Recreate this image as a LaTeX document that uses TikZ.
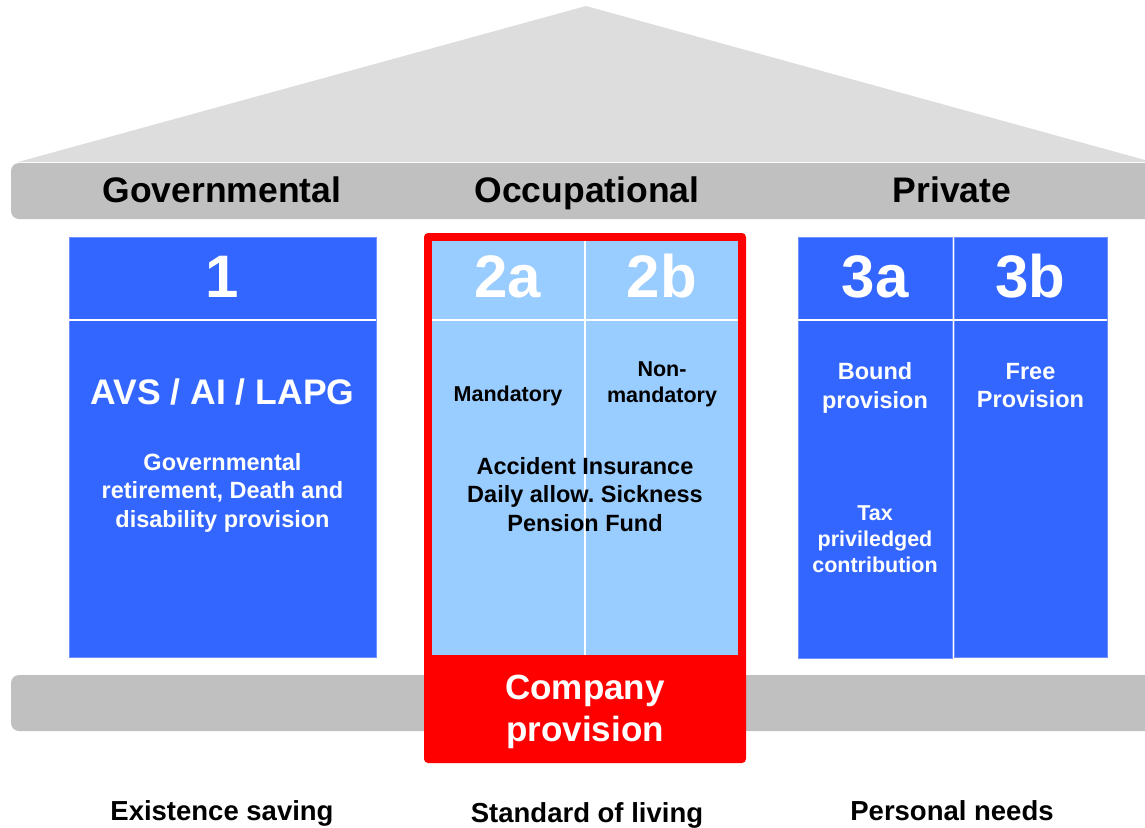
\documentclass[tikz,border=0pt]{standalone}
\usepackage{fontspec}
\setmainfont{Liberation Sans}
\usepackage{tikz}

\definecolor{pillarblue}{HTML}{3366FF}
\definecolor{lightpillar}{HTML}{99CCFF}
\definecolor{beamgray}{HTML}{C0C0C0}
\definecolor{roofgray}{HTML}{DDDDDD}
\definecolor{edgeblue}{HTML}{7090FF}

\newcommand{\boldsz}[2]{\fontsize{#1}{#2}\selectfont\bfseries}
\frenchspacing

\begin{document}
\begin{tikzpicture}[x=1pt,y=-1pt,
   pillar/.style={fill=pillarblue,draw=edgeblue,line width=0.8pt,inner sep=0pt},
   head/.style={anchor=base,font=\boldsz{35.5}{42}},
   num/.style={anchor=base,text=white,font=\boldsz{60}{60}},
   txt/.style={align=center,text=white,font=\boldsz{23.5}{28.5}},
   small/.style={align=center,font=\boldsz{21.5}{26}},
   foot/.style={anchor=base,font=\boldsz{27.5}{33}}]

\tikzstyle {sep} = [white, line width=1.5pt];

\useasboundingbox (0,0) rectangle (1145,827);

% roof and beams
\fill[roofgray] (18,162) -- (586,6) -- (1145,160) -- (1145,162) -- cycle;
\fill[beamgray, rounded corners=8] (1145,163) -- (11,163) -- (11,219) -- (1145,219);
\fill[beamgray, rounded corners=8] (1145,675) -- (11,675) -- (11,731) -- (1145,731);

% pillars
\node[pillar, minimum width=307pt, minimum height=420pt] (p1) at (222.5,447) {};
\node[pillar, minimum width=154pt, minimum height=421pt] (p3a) at (875,447.5) {};
\node[pillar, minimum width=153pt, minimum height=420pt] (p3b) at (1030.5,447) {};
\node[fill=red, rounded corners=4pt, inner sep=0pt,
      minimum width=322pt, minimum height=530pt] (occ) at (585,498) {};
\fill[lightpillar] (432,241) rectangle (738,655);

\draw[sep] (585,241) -- (585,655);
\draw[sep] (432,320) -- (738,320);
\draw[sep] (69,320) -- (376,320);
\draw[sep] (798,320) -- (1107,320);
\draw[sep, line width=1pt] (953,237) -- (953,658);

\node[head] (gov) at (222,202) {Governmental};
\node[head] (occh) at (587,202) {Occupational};
\node[head] (priv) at (952,202) {Private};

\node[num] (n1) at (222.5,297) {1};
\node[num] (n2a) at (508,297) {2a};
\node[num] (n2b) at (662,297) {2b};
\node[num] (n3a) at (875,297) {3a};
\node[num] (n3b) at (1030,297) {3b};

\node[anchor=base, text=white, font=\boldsz{35.5}{40}] (avs) at (222.5,404) {AVS / AI / LAPG};
\node[txt] (govtxt) at (222.5,492.5) {Governmental\\retirement, Death and\\disability provision};
\node[small, anchor=base] (mand) at (508,401) {Mandatory};
\node[small] (nonmand) at (662,384) {Non-\\mandatory};
\node[txt, text=black] (occtxt) at (585,494.5) {Accident Insurance\\Daily allow. Sickness\\Pension Fund};
\node[txt, font=\boldsz{35}{42}] (comp) at (585,711.5) {Company\\provision};
\node[txt] (bound) at (875,388) {Bound\\provision};
\node[txt] (free) at (1030.5,385.5) {Free\\Provision};
\node[small, text=white] (tax) at (875,539) {Tax\\priviledged\\contribution};

\node[foot] (exist) at (222,820) {Existence saving};
\node[foot] (std) at (587,822) {Standard of living};
\node[foot] (pers) at (952,820) {Personal needs};

\end{tikzpicture}
\end{document}
